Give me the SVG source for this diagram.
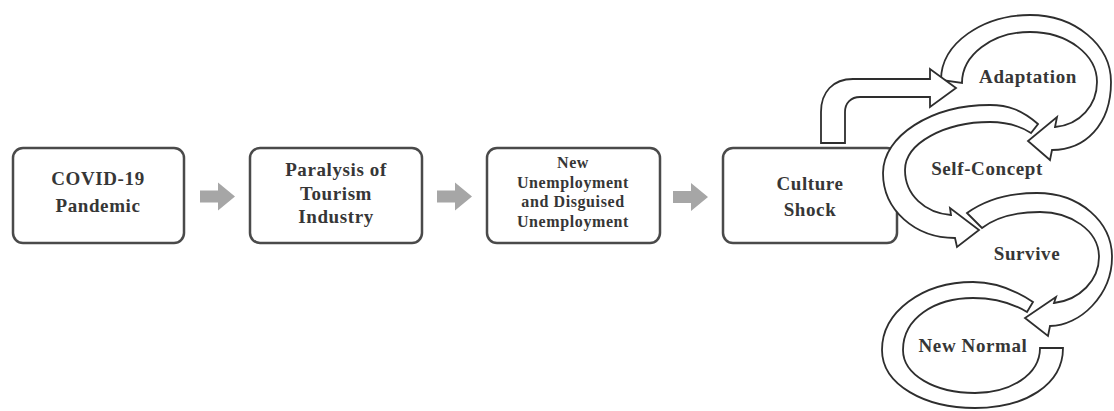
<svg xmlns="http://www.w3.org/2000/svg" width="1114" height="411" viewBox="0 0 1114 411">
<style>
.box{fill:#fff;stroke:#4a4a4a;stroke-width:2.5}
.band{fill:#fff;stroke:#2e2e2e;stroke-width:1.8;stroke-linejoin:miter}
.lbl{font-family:"Liberation Serif","DejaVu Serif",serif;font-weight:bold;font-size:19px;fill:#363636;text-anchor:middle;letter-spacing:0.6px}
.sm{font-size:16px}
.garrow{fill:#a6a6a6}
</style>
<defs>
<path id="ga" class="garrow" d="M0,-6 H18 V-14 L35,0 L18,14 V6 H0 Z"/>
</defs>
<rect width="1114" height="411" fill="#fff"/>
<g id="covid">
<rect class="box" x="13" y="148" width="171" height="95" rx="10"/>
<text class="lbl" x="98" y="185">COVID-19</text>
<text class="lbl" x="98" y="212">Pandemic</text>
</g>
<g id="paralysis">
<rect class="box" x="250" y="148" width="172" height="95" rx="10"/>
<text class="lbl" x="336" y="176">Paralysis of</text>
<text class="lbl" x="336" y="200">Tourism</text>
<text class="lbl" x="336" y="223">Industry</text>
</g>
<g id="unemployment">
<rect class="box" x="487" y="148" width="173" height="95" rx="10"/>
<text class="lbl sm" x="573" y="168">New</text>
<text class="lbl sm" x="573" y="188">Unemployment</text>
<text class="lbl sm" x="573" y="207">and Disguised</text>
<text class="lbl sm" x="573" y="227">Unemployment</text>
</g>
<g id="cultureshock">
<rect class="box" x="723" y="148" width="174" height="95" rx="10"/>
<text class="lbl" x="810" y="190">Culture</text>
<text class="lbl" x="810" y="216">Shock</text>
</g>
<g id="connectors">
<use href="#ga" x="200" y="196.5"/>
<use href="#ga" x="437" y="196.5"/>
<use href="#ga" x="673" y="197"/>
<path id="to-adaptation" class="band" d="M941,80 C941,43 983,15 1030,15 C1075,15 1111,45 1111,82 C1111,125 1085,150 1052,150 L1050,160 L1028,141 L1057,117 L1055,127 C1080,125 1097,105 1097,82 C1097,55 1068,32 1030,32 C992,32 962,55 962,83 Z"/>
<path id="bent" class="band" d="M821,143 V112 C821,92 833,79 853,79 H930 V69 L956,88 L930,107 V97 H860 C851,97 845,103 845,112 V143 Z"/>
<path id="to-survive" class="band" d="M1038,124 C1022,110 1008,105 990,105 C931,105 883,136 883,173 C883,210 915,238 955,238 L957,247 L979,230 L950,208 L951,215 C925,213 905,195 905,170 C905,143 945,122 990,122 C1005,122 1020,126 1031,133 Z"/>
<path id="to-newnormal" class="band" d="M967,213 C985,200 1010,193 1037,193 C1080,193 1112,222 1112,257 C1112,295 1080,326 1050,326 L1048,336 L1025,318 L1056,297 L1054,303 C1080,300 1099,280 1099,257 C1099,230 1070,212 1040,212 C1015,212 995,218 982,228 Z"/>
<path id="newnormal-ring" class="band" d="M1033,302 C1015,290 995,282 973,282 C922,282 882,312 882,350 C882,385 925,408 975,408 C1025,408 1063,385 1063,348 L1040,348 C1040,375 1010,393 975,393 C935,393 903,375 903,350 C903,318 935,298 973,298 C995,298 1012,303 1027,312 Z"/>
</g>
<g id="adaptation"><text class="lbl" x="1028" y="83">Adaptation</text></g>
<g id="selfconcept"><text class="lbl" x="987" y="175">Self-Concept</text></g>
<g id="survive"><text class="lbl" x="1027" y="260">Survive</text></g>
<g id="newnormal"><text class="lbl" x="973" y="352">New Normal</text></g>
</svg>
